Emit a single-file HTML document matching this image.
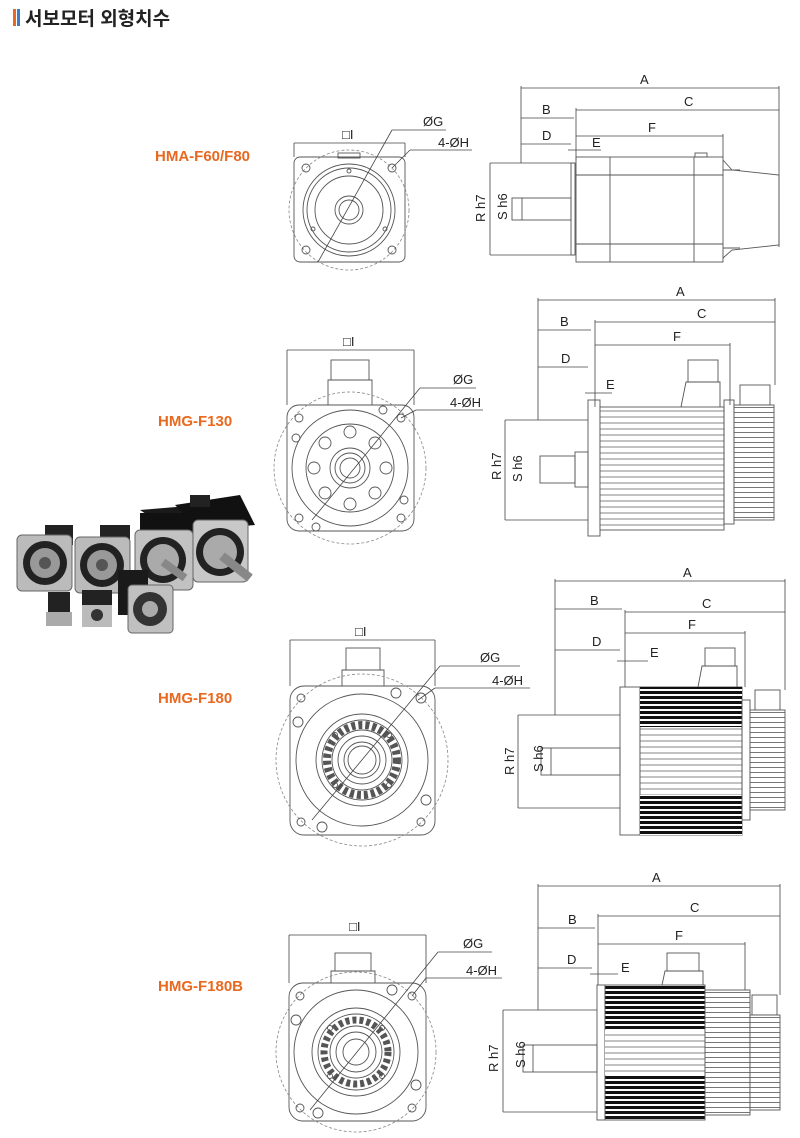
<!DOCTYPE html>
<html><head><meta charset="utf-8"><style>
html,body{margin:0;padding:0;background:#fff;}
svg{display:block;}
text{font-family:"Liberation Sans","Noto Sans CJK KR",sans-serif;}
.t{font-size:13px;fill:#222;}
.lb{font-size:15px;font-weight:bold;fill:#e8691f;}
.s{fill:none;stroke:#555;stroke-width:0.9;}
.d{fill:none;stroke:#444;stroke-width:0.8;}
.dash{fill:none;stroke:#888;stroke-width:0.8;stroke-dasharray:3 2;}
</style></head><body>
<svg width="800" height="1138" viewBox="0 0 800 1138" xmlns="http://www.w3.org/2000/svg">
<defs>
<pattern id="fin" width="10" height="6" patternUnits="userSpaceOnUse"><rect width="10" height="6" fill="#fff"/><line x1="0" y1="3" x2="10" y2="3" stroke="#666" stroke-width="0.8"/></pattern>
<pattern id="finb" width="10" height="5" patternUnits="userSpaceOnUse"><rect width="10" height="5" fill="#fff"/><rect y="1" width="10" height="3" fill="#111"/></pattern>
<pattern id="enc" width="6" height="5" patternUnits="userSpaceOnUse"><rect width="6" height="5" fill="#fff"/><line x1="0" y1="2.5" x2="6" y2="2.5" stroke="#555" stroke-width="0.8"/></pattern>
</defs>
<!-- header -->
<rect x="13" y="9" width="3" height="17" fill="#e8691f"/>
<rect x="17" y="9" width="3" height="17" fill="#3d7cc9"/>
<text x="25" y="25" style="font-size:19px;fill:#222;font-weight:bold">서보모터 외형치수</text>

<!-- ============ ROW 1 ============ -->
<text class="lb" x="155" y="161">HMA-F60/F80</text>
<rect class="s" x="294" y="157" width="111" height="105" rx="6"/>
<circle class="dash" cx="349" cy="210" r="60"/>
<circle class="s" cx="349" cy="210" r="46"/>
<circle class="s" cx="349" cy="210" r="42"/>
<circle class="s" cx="349" cy="210" r="34"/>
<circle class="s" cx="349" cy="210" r="14"/>
<circle class="s" cx="349" cy="210" r="10"/>
<rect class="s" x="338" y="153" width="22" height="5"/>
<circle class="s" cx="306" cy="168" r="4"/><circle class="s" cx="392" cy="168" r="4"/>
<circle class="s" cx="306" cy="250" r="4"/><circle class="s" cx="392" cy="250" r="4"/>
<circle class="s" cx="349" cy="171" r="2"/><circle class="s" cx="313" cy="229" r="2"/><circle class="s" cx="385" cy="229" r="2"/>
<line class="d" x1="294" y1="143" x2="405" y2="143"/><line class="d" x1="294" y1="143" x2="294" y2="157"/><line class="d" x1="405" y1="143" x2="405" y2="157"/>
<text class="t" x="342" y="139">□I</text>
<line class="d" x1="318" y1="262" x2="392" y2="130"/><line class="d" x1="392" y1="130" x2="446" y2="130"/>
<text class="t" x="423" y="126">ØG</text>
<line class="d" x1="392" y1="168" x2="410" y2="150"/><line class="d" x1="410" y1="150" x2="472" y2="150"/>
<text class="t" x="438" y="147">4-ØH</text>
<!-- side -->
<line class="d" x1="521" y1="88" x2="779" y2="88"/><line class="d" x1="521" y1="86" x2="521" y2="163"/><line class="d" x1="779" y1="86" x2="779" y2="247"/>
<text class="t" x="640" y="84">A</text>
<line class="d" x1="521" y1="118" x2="574" y2="118"/><text class="t" x="542" y="114">B</text>
<line class="d" x1="576" y1="110" x2="779" y2="110"/><line class="d" x1="576" y1="108" x2="576" y2="160"/><text class="t" x="684" y="106">C</text>
<line class="d" x1="521" y1="144" x2="571" y2="144"/><text class="t" x="542" y="140">D</text>
<line class="d" x1="568" y1="150" x2="601" y2="150"/><text class="t" x="592" y="147">E</text>
<line class="d" x1="576" y1="136" x2="723" y2="136"/><line class="d" x1="723" y1="134" x2="723" y2="157"/><text class="t" x="648" y="132">F</text>
<line class="d" x1="490" y1="163" x2="574" y2="163"/><line class="d" x1="490" y1="255" x2="574" y2="255"/><line class="d" x1="490" y1="163" x2="490" y2="255"/>
<text class="t" transform="translate(485,222) rotate(-90)">R h7</text>
<rect class="s" x="512" y="198" width="59" height="22"/><line class="d" x1="522" y1="198" x2="522" y2="220"/>
<text class="t" transform="translate(507,220) rotate(-90)">S h6</text>
<rect class="s" x="571" y="163" width="4" height="92"/>
<rect class="s" x="576" y="157" width="147" height="105"/>
<line class="s" x1="610" y1="157" x2="610" y2="262"/><line class="s" x1="694" y1="157" x2="694" y2="262"/>
<line class="s" x1="576" y1="175" x2="723" y2="175"/><line class="s" x1="576" y1="244" x2="723" y2="244"/>
<rect class="s" x="695" y="153" width="12" height="4"/>
<polyline class="s" points="723,160 732,170 779,175 779,245 732,250 723,258"/>
<line class="s" x1="723" y1="170" x2="740" y2="170"/><line class="s" x1="723" y1="248" x2="740" y2="248"/>

<!-- ============ ROW 2 ============ -->
<text class="lb" x="158" y="426">HMG-F130</text>
<rect class="s" x="331" y="360" width="38" height="20"/>
<polyline class="s" points="328,405 328,380 372,380 372,405"/>
<rect class="s" x="287" y="405" width="127" height="126" rx="12"/>
<circle class="dash" cx="350" cy="468" r="76"/>
<circle class="s" cx="350" cy="468" r="58"/>
<circle class="s" cx="350" cy="468" r="44"/>
<circle class="s" cx="350" cy="468" r="20"/>
<circle class="s" cx="350" cy="468" r="15"/>
<circle class="s" cx="350" cy="468" r="10"/>
<g class="s">
<circle cx="350" cy="432" r="6"/><circle cx="375" cy="443" r="6"/><circle cx="386" cy="468" r="6"/><circle cx="375" cy="493" r="6"/><circle cx="350" cy="504" r="6"/><circle cx="325" cy="493" r="6"/><circle cx="314" cy="468" r="6"/><circle cx="325" cy="443" r="6"/>
<circle cx="299" cy="418" r="4"/><circle cx="401" cy="418" r="4"/><circle cx="299" cy="518" r="4"/><circle cx="401" cy="518" r="4"/>
<circle cx="383" cy="410" r="4"/><circle cx="296" cy="438" r="4"/><circle cx="316" cy="527" r="4"/><circle cx="404" cy="500" r="4"/>
</g>
<line class="d" x1="287" y1="350" x2="414" y2="350"/><line class="d" x1="287" y1="350" x2="287" y2="405"/><line class="d" x1="414" y1="350" x2="414" y2="405"/>
<text class="t" x="343" y="346">□I</text>
<line class="d" x1="312" y1="520" x2="420" y2="388"/><line class="d" x1="420" y1="388" x2="476" y2="388"/>
<text class="t" x="453" y="384">ØG</text>
<line class="d" x1="401" y1="418" x2="416" y2="410"/><line class="d" x1="416" y1="410" x2="483" y2="410"/>
<text class="t" x="450" y="407">4-ØH</text>
<!-- side -->
<line class="d" x1="538" y1="300" x2="775" y2="300"/><line class="d" x1="538" y1="298" x2="538" y2="420"/><line class="d" x1="775" y1="298" x2="775" y2="385"/>
<text class="t" x="676" y="296">A</text>
<line class="d" x1="538" y1="330" x2="591" y2="330"/><text class="t" x="560" y="326">B</text>
<line class="d" x1="595" y1="322" x2="775" y2="322"/><line class="d" x1="595" y1="320" x2="595" y2="407"/><text class="t" x="697" y="318">C</text>
<line class="d" x1="538" y1="367" x2="588" y2="367"/><text class="t" x="561" y="363">D</text>
<line class="d" x1="585" y1="393" x2="612" y2="393"/><text class="t" x="606" y="389">E</text>
<line class="d" x1="595" y1="345" x2="730" y2="345"/><line class="d" x1="730" y1="343" x2="730" y2="405"/><text class="t" x="673" y="341">F</text>
<line class="d" x1="505" y1="420" x2="588" y2="420"/><line class="d" x1="505" y1="520" x2="588" y2="520"/><line class="d" x1="505" y1="420" x2="505" y2="520"/>
<text class="t" transform="translate(501,480) rotate(-90)">R h7</text>
<rect class="s" x="540" y="456" width="35" height="27"/><rect class="s" x="575" y="452" width="13" height="35"/>
<text class="t" transform="translate(522,482) rotate(-90)">S h6</text>
<rect class="s" x="588" y="400" width="12" height="136"/>
<rect x="600" y="407" width="124" height="123" fill="url(#fin)" stroke="#555" stroke-width="0.9"/>
<rect class="s" x="688" y="360" width="30" height="22"/>
<polyline class="s" points="681,407 686,382 720,382 720,407"/>
<rect class="s" x="724" y="400" width="10" height="124"/>
<rect class="s" x="740" y="385" width="30" height="20"/>
<rect x="734" y="405" width="40" height="115" fill="url(#enc)" stroke="#555" stroke-width="0.9"/>

<!-- photo -->
<g>
<rect x="45" y="525" width="28" height="20" fill="#222"/>
<rect x="17" y="535" width="55" height="56" rx="5" fill="#bbb" stroke="#666"/>
<circle cx="45" cy="563" r="22" fill="#222"/><circle cx="45" cy="563" r="15" fill="#999"/><circle cx="45" cy="563" r="6" fill="#555"/>
<rect x="100" y="525" width="30" height="20" fill="#222"/>
<rect x="75" y="537" width="55" height="56" rx="5" fill="#bbb" stroke="#666"/>
<circle cx="102" cy="565" r="22" fill="#222"/><circle cx="102" cy="565" r="15" fill="#999"/><circle cx="102" cy="565" r="6" fill="#555"/>
<polygon points="140,510 200,505 215,525 170,530" fill="#1a1a1a"/>
<rect x="140" y="513" width="55" height="20" fill="#111"/>
<rect x="135" y="530" width="58" height="60" rx="5" fill="#c2c2c2" stroke="#666"/>
<circle cx="163" cy="560" r="23" fill="#222"/><circle cx="163" cy="560" r="16" fill="#aaa"/><line x1="163" y1="562" x2="185" y2="578" stroke="#888" stroke-width="8"/>
<polygon points="175,505 240,495 255,525 200,530" fill="#111"/>
<rect x="190" y="495" width="20" height="12" fill="#222"/>
<rect x="193" y="520" width="55" height="62" rx="5" fill="#c8c8c8" stroke="#666"/>
<circle cx="220" cy="552" r="24" fill="#222"/><circle cx="220" cy="552" r="17" fill="#aaa"/><line x1="222" y1="556" x2="250" y2="578" stroke="#888" stroke-width="9"/>
<rect x="48" y="592" width="22" height="30" fill="#222"/><rect x="46" y="612" width="26" height="14" fill="#aaa"/>
<rect x="82" y="590" width="30" height="30" fill="#222"/><rect x="82" y="605" width="30" height="22" fill="#bbb"/><circle cx="97" cy="615" r="6" fill="#333"/>
<rect x="118" y="570" width="30" height="45" fill="#1a1a1a"/>
<rect x="128" y="585" width="45" height="48" rx="4" fill="#c0c0c0" stroke="#666"/>
<circle cx="150" cy="609" r="17" fill="#333"/><circle cx="150" cy="609" r="8" fill="#aaa"/>
</g>

<!-- ============ ROW 3 ============ -->
<text class="lb" x="158" y="703">HMG-F180</text>
<rect class="s" x="346" y="648" width="34" height="22"/>
<polyline class="s" points="342,686 342,670 384,670 384,686"/>
<rect class="s" x="290" y="686" width="145" height="149" rx="14"/>
<circle class="dash" cx="362" cy="760" r="86"/>
<circle class="s" cx="362" cy="760" r="66"/>
<circle class="s" cx="362" cy="760" r="46"/>
<circle class="s" cx="362" cy="760" r="40"/>
<circle class="s" cx="362" cy="760" r="30"/>
<circle class="s" cx="362" cy="760" r="24"/>
<circle class="s" cx="362" cy="760" r="18"/>
<circle class="s" cx="362" cy="760" r="14"/>
<circle cx="362" cy="760" r="35" fill="none" stroke="#555" stroke-width="8" stroke-dasharray="4 3"/>
<g class="s">
<circle cx="335" cy="735" r="2.5"/><circle cx="389" cy="735" r="2.5"/><circle cx="335" cy="785" r="2.5"/><circle cx="389" cy="785" r="2.5"/>
<circle cx="301" cy="698" r="4"/><circle cx="421" cy="698" r="5"/><circle cx="301" cy="822" r="4"/><circle cx="421" cy="822" r="4"/>
<circle cx="396" cy="693" r="5"/><circle cx="298" cy="722" r="5"/><circle cx="322" cy="827" r="5"/><circle cx="426" cy="800" r="5"/>
</g>
<line class="d" x1="290" y1="640" x2="435" y2="640"/><line class="d" x1="290" y1="640" x2="290" y2="686"/><line class="d" x1="435" y1="640" x2="435" y2="686"/>
<text class="t" x="355" y="636">□I</text>
<line class="d" x1="312" y1="820" x2="440" y2="666"/><line class="d" x1="440" y1="666" x2="520" y2="666"/>
<text class="t" x="480" y="662">ØG</text>
<line class="d" x1="418" y1="700" x2="435" y2="688"/><line class="d" x1="435" y1="688" x2="530" y2="688"/>
<text class="t" x="492" y="685">4-ØH</text>
<!-- side -->
<line class="d" x1="555" y1="581" x2="785" y2="581"/><line class="d" x1="555" y1="579" x2="555" y2="715"/><line class="d" x1="785" y1="579" x2="785" y2="690"/>
<text class="t" x="683" y="577">A</text>
<line class="d" x1="555" y1="609" x2="622" y2="609"/><text class="t" x="590" y="605">B</text>
<line class="d" x1="625" y1="612" x2="785" y2="612"/><line class="d" x1="625" y1="610" x2="625" y2="687"/><text class="t" x="702" y="608">C</text>
<line class="d" x1="555" y1="650" x2="620" y2="650"/><text class="t" x="592" y="646">D</text>
<line class="d" x1="617" y1="661" x2="648" y2="661"/><text class="t" x="650" y="657">E</text>
<line class="d" x1="625" y1="633" x2="745" y2="633"/><line class="d" x1="745" y1="631" x2="745" y2="687"/><text class="t" x="688" y="629">F</text>
<line class="d" x1="518" y1="715" x2="620" y2="715"/><line class="d" x1="518" y1="808" x2="620" y2="808"/><line class="d" x1="518" y1="715" x2="518" y2="808"/>
<text class="t" transform="translate(514,775) rotate(-90)">R h7</text>
<rect class="s" x="541" y="748" width="79" height="27"/><line class="d" x1="551" y1="748" x2="551" y2="775"/>
<text class="t" transform="translate(543,772) rotate(-90)">S h6</text>
<rect class="s" x="620" y="687" width="20" height="148"/>
<rect x="640" y="687" width="102" height="148" fill="url(#fin)" stroke="#555" stroke-width="0.9"/>
<rect x="640" y="687" width="102" height="40" fill="url(#finb)"/>
<rect x="640" y="795" width="102" height="40" fill="url(#finb)"/>
<rect class="s" x="705" y="648" width="30" height="18"/>
<polyline class="s" points="698,687 702,666 737,666 737,687"/>
<rect class="s" x="742" y="700" width="8" height="120"/>
<rect class="s" x="755" y="690" width="25" height="20"/>
<rect x="750" y="710" width="35" height="100" fill="url(#enc)" stroke="#555" stroke-width="0.9"/>

<!-- ============ ROW 4 ============ -->
<text class="lb" x="158" y="991">HMG-F180B</text>
<rect class="s" x="335" y="953" width="36" height="18"/>
<polyline class="s" points="331,983 331,971 375,971 375,983"/>
<rect class="s" x="289" y="983" width="137" height="138" rx="14"/>
<circle class="dash" cx="356" cy="1052" r="80"/>
<circle class="s" cx="356" cy="1052" r="62"/>
<circle class="s" cx="356" cy="1052" r="44"/>
<circle class="s" cx="356" cy="1052" r="38"/>
<circle class="s" cx="356" cy="1052" r="26"/>
<circle class="s" cx="356" cy="1052" r="20"/>
<circle class="s" cx="356" cy="1052" r="13"/>
<circle cx="356" cy="1052" r="32" fill="none" stroke="#555" stroke-width="7" stroke-dasharray="4 3"/>
<g class="s">
<circle cx="330" cy="1028" r="2.5"/><circle cx="382" cy="1028" r="2.5"/><circle cx="330" cy="1076" r="2.5"/><circle cx="382" cy="1076" r="2.5"/>
<circle cx="300" cy="996" r="4"/><circle cx="412" cy="996" r="4"/><circle cx="300" cy="1108" r="4"/><circle cx="412" cy="1108" r="4"/>
<circle cx="392" cy="990" r="5"/><circle cx="296" cy="1020" r="5"/><circle cx="318" cy="1113" r="5"/><circle cx="416" cy="1085" r="5"/>
</g>
<line class="d" x1="289" y1="935" x2="426" y2="935"/><line class="d" x1="289" y1="935" x2="289" y2="983"/><line class="d" x1="426" y1="935" x2="426" y2="983"/>
<text class="t" x="349" y="931">□I</text>
<line class="d" x1="310" y1="1110" x2="438" y2="952"/><line class="d" x1="438" y1="952" x2="492" y2="952"/>
<text class="t" x="463" y="948">ØG</text>
<line class="d" x1="412" y1="996" x2="426" y2="978"/><line class="d" x1="426" y1="978" x2="502" y2="978"/>
<text class="t" x="466" y="975">4-ØH</text>
<!-- side -->
<line class="d" x1="538" y1="886" x2="780" y2="886"/><line class="d" x1="538" y1="884" x2="538" y2="1010"/><line class="d" x1="780" y1="884" x2="780" y2="995"/>
<text class="t" x="652" y="882">A</text>
<line class="d" x1="538" y1="928" x2="595" y2="928"/><text class="t" x="568" y="924">B</text>
<line class="d" x1="598" y1="916" x2="780" y2="916"/><line class="d" x1="598" y1="914" x2="598" y2="985"/><text class="t" x="690" y="912">C</text>
<line class="d" x1="538" y1="968" x2="592" y2="968"/><text class="t" x="567" y="964">D</text>
<line class="d" x1="590" y1="974" x2="618" y2="974"/><text class="t" x="621" y="972">E</text>
<line class="d" x1="598" y1="944" x2="745" y2="944"/><line class="d" x1="745" y1="942" x2="745" y2="995"/><text class="t" x="675" y="940">F</text>
<line class="d" x1="503" y1="1010" x2="597" y2="1010"/><line class="d" x1="503" y1="1112" x2="597" y2="1112"/><line class="d" x1="503" y1="1010" x2="503" y2="1112"/>
<text class="t" transform="translate(498,1072) rotate(-90)">R h7</text>
<rect class="s" x="523" y="1045" width="74" height="27"/><line class="d" x1="533" y1="1045" x2="533" y2="1072"/>
<text class="t" transform="translate(525,1068) rotate(-90)">S h6</text>
<rect class="s" x="597" y="985" width="8" height="135"/>
<rect x="605" y="985" width="100" height="135" fill="url(#finb)" stroke="#555" stroke-width="0.9"/>
<rect x="605" y="1030" width="100" height="45" fill="url(#fin)"/>
<rect class="s" x="667" y="953" width="32" height="18"/>
<polyline class="s" points="662,985 665,971 703,971 703,985"/>
<rect x="705" y="990" width="45" height="125" fill="url(#enc)" stroke="#555" stroke-width="0.9"/>
<rect class="s" x="752" y="995" width="25" height="20"/>
<rect x="750" y="1015" width="30" height="95" fill="url(#enc)" stroke="#555" stroke-width="0.9"/>
</svg>
</body></html>
